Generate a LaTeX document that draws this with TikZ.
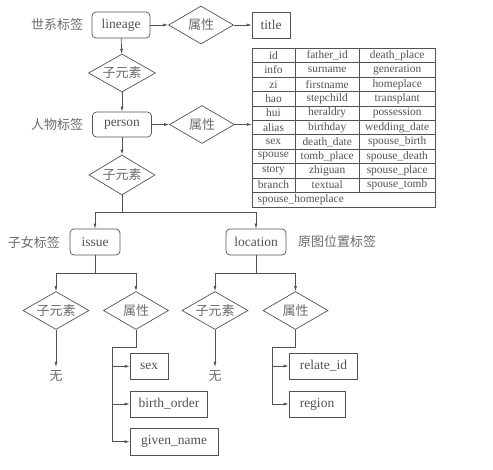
\documentclass[tikz,border=0pt]{standalone}
\usepackage{fontspec}
\setmainfont{Liberation Serif}
\newfontfamily\cjk{Noto Sans CJK SC}
\usetikzlibrary{shapes.geometric,arrows.meta}
\definecolor{ink}{gray}{0.32}
\definecolor{inklight}{gray}{0.42}
\tikzset{
  tag/.style={draw=ink, line width=0.7pt, rounded corners=4pt, minimum height=26pt, inner sep=0pt, text=ink},
  leaf/.style={draw=ink, line width=0.7pt, minimum height=26pt, inner sep=0pt, text=ink},
  choice/.style={draw=ink, line width=0.7pt, diamond, aspect=1.7, minimum width=65pt, minimum height=38pt, inner sep=0pt, text=inklight, font=\cjk\fontsize{13}{15}\selectfont},
  note/.style={text=inklight, font=\cjk\fontsize{13}{15}\selectfont},
  link/.style={draw=ink, line width=0.7pt, -{Latex[length=5pt,width=3pt]}},
  cell/.style={text=ink, inner sep=0pt, font=\fontsize{11.4}{13}\selectfont},
}
\begin{document}
\begin{tikzpicture}[x=1pt,y=-1pt,font=\fontsize{13.5}{16}\selectfont]
\useasboundingbox (0,0) rectangle (493,470);
% lineage
\node[note] (lbl1) at (57,25) {世系标签};
\node[tag, minimum width=58pt] (lineage) at (121,25) {lineage};
\node[choice] (lattr) at (201,25) {属性};
\node[leaf, minimum width=38pt] (title) at (271,25) {title};
\node[choice, minimum width=67pt] (lchild) at (122,73) {子元素};
\draw[link] (lineage) -- (lattr);
\draw[link] (lattr) -- (title);
\draw[link] (lineage) -- (lchild);
% person
\node[note] (lbl2) at (57,124.5) {人物标签};
\node[tag, minimum width=59pt, minimum height=25pt] (person) at (122,124.5) {person};
\node[choice] (pattr) at (202,124.5) {属性};
\node[choice, minimum width=66pt, minimum height=40pt] (pchild) at (122,175) {子元素};
\draw[link] (lchild) -- (person);
\draw[link] (person) -- (pattr);
\draw[link] (person) -- (pchild);
% attribute table
\node[draw=ink, line width=0.7pt, minimum width=183pt, minimum height=158.4pt, inner sep=0pt, anchor=north west] (attrs) at (252,48.3) {};
\foreach \r in {1,...,10}
  \draw[ink, line width=0.6pt] (252,48.3+\r*14.4) -- (435,48.3+\r*14.4);
\draw[ink, line width=0.6pt] (295,48.3) -- (295,192.3);
\draw[ink, line width=0.6pt] (359.3,48.3) -- (359.3,192.3);
\foreach \a/\b/\c [count=\r] in {id/father\_id/death\_place, info/surname/generation,
    zi/firstname/homeplace, hao/stepchild/transplant, hui/heraldry/possession,
    alias/birthday/wedding\_date, sex/death\_date/spouse\_birth, spouse/tomb\_place/spouse\_death,
    story/zhiguan/spouse\_place, branch/textual/spouse\_tomb} {
  \node[cell] at (273.5,48.3+\r*14.4-7.2) {\a};
  \node[cell] at (327.2,48.3+\r*14.4-7.2) {\b};
  \node[cell] at (397.2,48.3+\r*14.4-7.2) {\c};
}
\node[cell, anchor=west] (lastrow) at (257.5,199.5) {spouse\_homeplace};
\draw[link] (pattr) -- (pattr -| attrs.west);
% issue and location
\coordinate (pbus) at (122,212);
\node[note] (lbl3) at (34,242) {子女标签};
\node[tag, minimum width=50pt] (issue) at (95,242) {issue};
\node[tag, minimum width=60pt] (location) at (256,242) {location};
\node[note] (lbl4) at (337,242) {原图位置标签};
\draw[link] (pchild) -- (pbus) -| (issue);
\draw[link] (pbus) -| (location);
% issue branch
\coordinate (ibus) at (95,273);
\node[choice, minimum width=66pt] (ichild) at (56,310.5) {子元素};
\node[choice] (iattr) at (136,310.5) {属性};
\node[note] (none1) at (56,376) {无};
\draw[link] (issue) -- (ibus) -| (ichild);
\draw[link] (ibus) -| (iattr);
\draw[link] (ichild) -- (none1);
\coordinate (ielb) at (112.3,347);
\node[leaf, minimum width=38pt] (sex) at (149.2,366.3) {sex};
\node[leaf, minimum width=77.7pt] (border) at (168.9,404) {birth\_order};
\node[leaf, minimum width=88pt, minimum height=27pt] (gname) at (174,441.7) {given\_name};
\draw[link] (iattr) |- (ielb) |- (sex);
\draw[link] (ielb) |- (border);
\draw[link] (ielb) |- (gname);
% location branch
\coordinate (lbus) at (256,273);
\node[choice, minimum width=66pt] (lochild) at (215,310.5) {子元素};
\node[choice] (loattr) at (295.5,310.5) {属性};
\node[note] (none2) at (215,376) {无};
\draw[link] (location) -- (lbus) -| (lochild);
\draw[link] (lbus) -| (loattr);
\draw[link] (lochild) -- (none2);
\coordinate (lelb) at (272.3,347);
\node[leaf, minimum width=68.7pt] (relid) at (323.4,366) {relate\_id};
\node[leaf, minimum width=56pt] (region) at (317,404) {region};
\draw[link] (loattr) |- (lelb) |- (relid);
\draw[link] (lelb) |- (region);
\end{tikzpicture}
\end{document}
